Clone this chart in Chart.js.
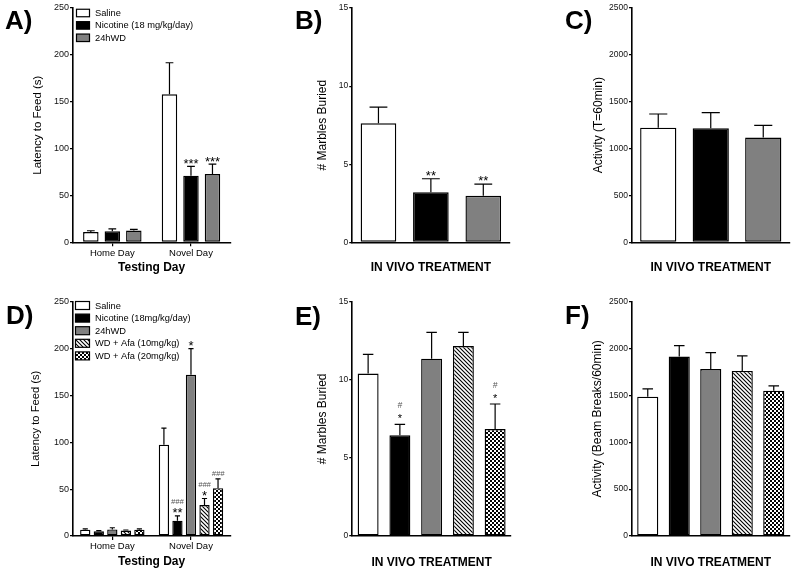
<!DOCTYPE html>
<html>
<head>
<meta charset="utf-8">
<script src="https://cdn.jsdelivr.net/npm/chart.js@4.4.1/dist/chart.umd.min.js"></script>
<style>
  html, body { margin: 0; padding: 0; background: #fff; }
  #wrap { position: relative; width: 795px; height: 573px; overflow: hidden; }
  #wrap canvas { position: absolute; left: 0; top: 0; }
  .panel { position: absolute; font: bold 26px 'Liberation Sans', Arial, sans-serif; line-height: 26px; color: #000; }
</style>
</head>
<body>
<div id="wrap">
  <canvas id="chartA" width="795" height="573"></canvas>
  <canvas id="chartB" width="795" height="573"></canvas>
  <canvas id="chartC" width="795" height="573"></canvas>
  <canvas id="chartD" width="795" height="573"></canvas>
  <canvas id="chartE" width="795" height="573"></canvas>
  <canvas id="chartF" width="795" height="573"></canvas>
  <div class="panel" style="left:5px;top:7px">A)</div>
  <div class="panel" style="left:295px;top:7px">B)</div>
  <div class="panel" style="left:565px;top:7px">C)</div>
  <div class="panel" style="left:6px;top:302px">D)</div>
  <div class="panel" style="left:295px;top:303px">E)</div>
  <div class="panel" style="left:565px;top:302px">F)</div>
</div>
<script>
const FONT = "'Liberation Sans', Arial, sans-serif";

// ---- data ----
const dayLabels = ['Home Day', 'Novel Day'];
const groupsTop = ['Saline', 'Nicotine (18 mg/kg/day)', '24hWD'];
const groupsBottom = ['Saline', 'Nicotine (18mg/kg/day)', '24hWD', 'WD + Afa (10mg/kg)', 'WD + Afa (20mg/kg)'];

// A) latency to feed (s): one [home, novel] pair per group
const latencyA = [[10.9, 157.9], [11.8, 71.1], [12.6, 72.9]];
const latencyAErr = [[12.3, 191.6], [14.4, 81.0], [13.8, 83.5]];
const latencyAStars = [['', ''], ['', '***'], ['', '***']];

// B) marbles buried
const marblesB = [7.62, 3.2, 2.98];
const marblesBErr = [8.66, 4.07, 3.73];
const marblesBStars = ['', '**', '**'];

// C) activity (T=60min)
const activityC = [1223, 1216, 1117];
const activityCErr = [1369, 1383, 1248];

// D) latency to feed (s), five groups
const latencyD = [[6.8, 97.4], [5.0, 16.4], [7.0, 172], [5.8, 33], [6.8, 51]];
const latencyDErr = [[7.6, 115], [5.8, 21.5], [8.8, 200], [6.4, 40], [7.6, 61]];
const latencyDStars = [['', ''], ['', '**'], ['', '*'], ['', '*'], ['', '']];
const latencyDHash = [['', ''], ['', '###'], ['', ''], ['', '###'], ['', '###']];

// E) marbles buried
const marblesE = [10.4, 6.45, 11.35, 12.16, 6.85];
const marblesEErr = [11.63, 7.15, 13.04, 13.04, 8.45];
const marblesEStars = ['', '*', '', '', '*'];
const marblesEHash = ['', '#', '', '', '#'];

// F) activity (beam breaks/60min)
const activityF = [1487, 1914, 1782, 1761, 1551];
const activityFErr = [1569, 2031, 1956, 1921, 1601];

// ---- fills ----
function makePattern(draw) {
    const c = document.createElement('canvas');
    c.width = 4; c.height = 4;
    const g = c.getContext('2d');
    draw(g);
    return g.createPattern(c, 'repeat');
}
const hatch = makePattern(g => {
    g.fillStyle = '#fff'; g.fillRect(0, 0, 4, 4);
    g.strokeStyle = '#000'; g.lineWidth = 1.1;
    g.beginPath();
    g.moveTo(-1, -1); g.lineTo(5, 5);
    g.moveTo(3, -1); g.lineTo(5, 1);
    g.moveTo(-1, 3); g.lineTo(1, 5);
    g.stroke();
});
const checker = makePattern(g => {
    g.fillStyle = '#000'; g.fillRect(0, 0, 4, 4);
    g.fillStyle = '#fff';
    g.fillRect(0, 0, 2, 2); g.fillRect(2, 2, 2, 2);
});
const fills = ['#ffffff', '#000000', '#808080', hatch, checker];

// ---- plugins ----
const errorBars = {
    id: 'errorBars',
    afterDatasetsDraw(chart, args, opts) {
        const ctx = chart.ctx;
        const y = chart.scales.y;
        ctx.save();
        chart.data.datasets.forEach((ds, i) => {
            const meta = chart.getDatasetMeta(i);
            meta.data.forEach((bar, j) => {
                const yE = y.getPixelForValue(ds.errHigh[j]);
                const half = bar.width / 4;
                ctx.strokeStyle = '#000';
                ctx.lineWidth = 1.2;
                ctx.beginPath();
                ctx.moveTo(bar.x, bar.y);
                ctx.lineTo(bar.x, yE);
                ctx.moveTo(bar.x - half, yE);
                ctx.lineTo(bar.x + half, yE);
                ctx.stroke();

                const star = ds.stars ? ds.stars[j] : '';
                const hash = ds.hashes ? ds.hashes[j] : '';
                ctx.textAlign = 'center';
                ctx.textBaseline = 'alphabetic';
                let base = yE + opts.starShift;
                if (star) {
                    ctx.fillStyle = '#000';
                    ctx.font = opts.starSize + 'px ' + FONT;
                    ctx.fillText(star, bar.x, base);
                }
                if (hash) {
                    const hb = star ? base - opts.hashGap : yE - 3.3;
                    ctx.fillStyle = '#555';
                    ctx.font = 'italic ' + opts.hashSize + 'px ' + FONT;
                    ctx.fillText(hash, bar.x, hb);
                }
            });
        });
        ctx.restore();
    }
};

const boxLegend = {
    id: 'boxLegend',
    afterDraw(chart, args, opts) {
        if (!opts.show) return;
        const ctx = chart.ctx;
        ctx.save();
        chart.data.datasets.forEach((ds, i) => {
            const cy = opts.y + i * opts.rowH;
            ctx.fillStyle = ds.backgroundColor;
            ctx.fillRect(opts.x, cy - opts.boxH / 2, opts.boxW, opts.boxH);
            ctx.strokeStyle = '#000';
            ctx.lineWidth = 1.2;
            ctx.strokeRect(opts.x, cy - opts.boxH / 2, opts.boxW, opts.boxH);
            ctx.fillStyle = '#000';
            ctx.font = opts.size + 'px ' + FONT;
            ctx.textAlign = 'left';
            ctx.textBaseline = 'middle';
            ctx.fillText(ds.label, opts.textX, cy + 0.5);
        });
        ctx.restore();
    }
};

// ---- chart builder ----
function makeChart(id, cfg) {
    const a = cfg.area; // left, top, right, bottom of the plot area
    return new Chart(document.getElementById(id), {
        type: 'bar',
        data: { labels: cfg.labels, datasets: cfg.datasets },
        plugins: [errorBars, boxLegend],
        options: {
            responsive: false,
            animation: false,
            events: [],
            layout: { padding: { left: a[0] - cfg.yw, top: a[1], right: 795 - a[2], bottom: 573 - a[3] - cfg.xh } },
            plugins: {
                legend: { display: false },
                tooltip: { enabled: false },
                errorBars: cfg.marks,
                boxLegend: cfg.legend || { show: false }
            },
            scales: {
                x: {
                    offset: true,
                    ticks: { display: cfg.showDays, font: { family: FONT, size: 9.5 }, color: '#000', padding: 1 },
                    grid: { display: cfg.showDays, drawOnChartArea: false, offset: false, tickLength: 4, tickColor: '#000', lineWidth: 1.2 },
                    border: { display: true, color: '#000', width: 1.6 },
                    title: { display: true, text: cfg.xTitle, font: { family: FONT, size: 12, weight: 'bold' }, color: '#000', padding: 0 },
                    afterFit: s => { s.height = cfg.xh; }
                },
                y: {
                    min: 0,
                    max: cfg.yMax,
                    ticks: {
                        stepSize: cfg.yStep,
                        font: { family: FONT, size: cfg.tickSize },
                        color: '#111',
                        padding: 1,
                        callback: v => String(v)
                    },
                    grid: { drawOnChartArea: false, tickLength: 3, tickColor: '#000', lineWidth: 1.2 },
                    border: { color: '#000', width: 1.6 },
                    title: { display: true, text: cfg.yTitle, font: { family: FONT, size: cfg.yTitleSize }, color: '#000', padding: 0 },
                    afterFit: s => { s.width = cfg.yw; }
                }
            }
        }
    });
}

function barStyle(fill, cp, bp) {
    return {
        backgroundColor: fill,
        borderColor: '#000',
        borderWidth: 1.4,
        borderSkipped: false,
        categoryPercentage: cp,
        barPercentage: bp
    };
}

// A
makeChart('chartA', {
    area: [73, 8, 230.3, 242.3], yw: 41.9, xh: 32.2,
    labels: dayLabels, showDays: true, xTitle: 'Testing Day',
    yTitle: 'Latency to Feed (s)', yTitleSize: 11.5, yMax: 250, yStep: 50, tickSize: 9,
    marks: { starSize: 13, starShift: 1.5, hashSize: 7.6, hashGap: 13.5 },
    legend: { show: true, x: 76.5, y: 13, rowH: 12.4, boxW: 13, boxH: 7.5, textX: 95, size: 9.3 },
    datasets: groupsTop.map((g, i) => Object.assign({
        label: g, data: latencyA[i], errHigh: latencyAErr[i], stars: latencyAStars[i]
    }, barStyle(fills[i], 0.82, 0.72)))
});

// B
makeChart('chartB', {
    area: [352.25, 8, 509.5, 242.3], yw: 37.1, xh: 32.5,
    labels: groupsTop, showDays: false, xTitle: 'IN VIVO TREATMENT',
    yTitle: '# Marbles Buried', yTitleSize: 12, yMax: 15, yStep: 5, tickSize: 8.5,
    marks: { starSize: 13, starShift: 1.0, hashSize: 7.6, hashGap: 13.5 },
    datasets: [Object.assign({
        label: 'Marbles', data: marblesB, errHigh: marblesBErr, stars: marblesBStars
    }, barStyle(fills.slice(0, 3), 1.0, 0.68))]
});

// C
makeChart('chartC', {
    area: [632, 8, 789.5, 242.3], yw: 40.4, xh: 32.5,
    labels: groupsTop, showDays: false, xTitle: 'IN VIVO TREATMENT',
    yTitle: 'Activity (T=60min)', yTitleSize: 12, yMax: 2500, yStep: 500, tickSize: 8.5,
    marks: { starSize: 13, starShift: 1.0, hashSize: 7.6, hashGap: 13.5 },
    datasets: [Object.assign({
        label: 'Activity', data: activityC, errHigh: activityCErr
    }, barStyle(fills.slice(0, 3), 1.0, 0.69))]
});

// D
makeChart('chartD', {
    area: [73, 301.7, 230.3, 536], yw: 43.5, xh: 33.2,
    labels: dayLabels, showDays: true, xTitle: 'Testing Day',
    yTitle: 'Latency to Feed (s)', yTitleSize: 11.2, yMax: 250, yStep: 50, tickSize: 9,
    marks: { starSize: 13, starShift: 1.5, hashSize: 7.6, hashGap: 13.5 },
    legend: { show: true, x: 75.5, y: 305.5, rowH: 12.6, boxW: 14, boxH: 8, textX: 95, size: 9.3 },
    datasets: groupsBottom.map((g, i) => Object.assign({
        label: g, data: latencyD[i], errHigh: latencyDErr[i], stars: latencyDStars[i], hashes: latencyDHash[i]
    }, barStyle(fills[i], 0.86, 0.76)))
});

// E
makeChart('chartE', {
    area: [352.25, 301.7, 511, 536], yw: 37.1, xh: 33.7,
    labels: groupsBottom, showDays: false, xTitle: 'IN VIVO TREATMENT',
    yTitle: '# Marbles Buried', yTitleSize: 12, yMax: 15, yStep: 5, tickSize: 8.5,
    marks: { starSize: 11, starShift: -2.5, hashSize: 8.5, hashGap: 14 },
    datasets: [Object.assign({
        label: 'Marbles', data: marblesE, errHigh: marblesEErr, stars: marblesEStars, hashes: marblesEHash
    }, barStyle(fills, 1.0, 0.66))]
});

// F
makeChart('chartF', {
    area: [632, 301.7, 789.5, 536], yw: 41.4, xh: 33.7,
    labels: groupsBottom, showDays: false, xTitle: 'IN VIVO TREATMENT',
    yTitle: 'Activity (Beam Breaks/60min)', yTitleSize: 12, yMax: 2500, yStep: 500, tickSize: 8.5,
    marks: { starSize: 13, starShift: 1.0, hashSize: 7.6, hashGap: 13.5 },
    datasets: [Object.assign({
        label: 'Activity', data: activityF, errHigh: activityFErr
    }, barStyle(fills, 1.0, 0.67))]
});
</script>
</body>
</html>
